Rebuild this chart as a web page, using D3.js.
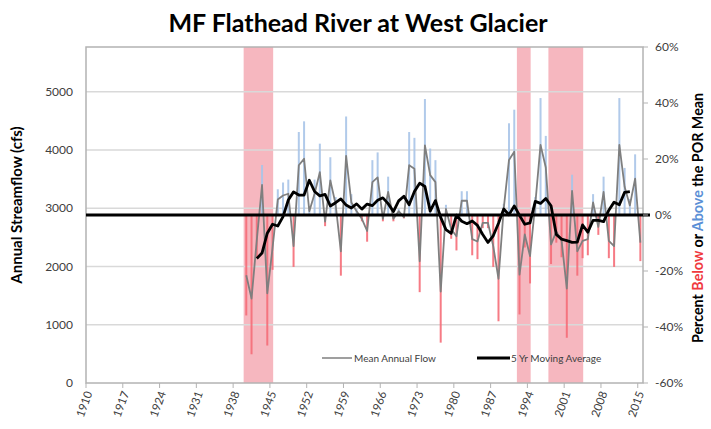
<!DOCTYPE html>
<html lang="en">
  <head>
    <meta charset="utf-8">
    <title>MF Flathead River at West Glacier</title>
    <script type="text/javascript" src="https://cdn.jsdelivr.net/npm/d3@7"></script>
    <style>
      body { margin: 0; background: #fff; }
      svg text { font-family: Lato, "Open Sans", sans-serif; }
    </style>
  </head>
  <body>
    <script type="text/javascript">
    // annual mean flow (cfs), one value per water year starting 1940
    var startYear = 1940;
    var flow = [
      1850, 1450, 2450, 3400, 1540, 2320, 3150, 3220, 3250, 2350,   // 1940s
      3740, 3850, 2950, 3250, 3620, 2770, 3480, 3070, 2260, 3900,   // 1950s
      3100, 2950, 2820, 2610, 3450, 3530, 2820, 3280, 2820, 2950,   // 1960s
      2850, 3740, 3680, 2090, 4080, 3570, 3450, 1570, 2990, 2640,   // 1970s
      2520, 3130, 3130, 2470, 2430, 2750, 2750, 2350, 1790, 3000,   // 1980s
      3830, 3970, 1860, 2550, 2180, 3070, 4090, 3700, 2380, 2600,   // 1990s
      2450, 1620, 3300, 2260, 2440, 2470, 3100, 2680, 3280, 2440,   // 2000s
      2350, 4090, 3370, 3050, 3510, 2410                            // 2010s
    ];
    // period of record mean (cfs)
    var porMean = 2885;

    // drought periods shaded on the chart (first and last year)
    var droughtStart = [1940, 1992, 1998];
    var droughtEnd = [1945, 1994, 2004];

    // axis ticks
    var flowTicks = [0, 1000, 2000, 3000, 4000, 5000];
    var pctTicks = [-60, -40, -20, 0, 20, 40, 60];
    var yearTicks = d3.range(1910, 2016, 7);

    var w = 711;
    var h = 429;
    // plot area edges ("top" is taken by window.top, so prefix them)
    var plotL = 86, plotR = 643, plotT = 47, plotB = 383;

    var data = flow.map(function(f, i) {
      return { year: startYear + i, flow: f, pct: (f / porMean - 1) * 100 };
    });

    // centred 5 yr moving average
    var ma = [];
    for (var i = 2; i < data.length - 2; i++) {
      ma.push({ year: data[i].year, value: d3.mean(data.slice(i - 2, i + 3), function(d) { return d.flow; }) });
    }

    var svg = d3.select("body")
                .append("svg")
                .attr("width", w)
                .attr("height", h);

    var xScale = d3.scaleLinear().domain([1910, 2016]).range([plotL, plotR]);
    var yScale = d3.scaleLinear().domain([0, porMean * 2]).range([plotB, plotT]);
    var pScale = d3.scaleLinear().domain([-60, 60]).range([plotB, plotT]);

    // x position of a year is the middle of its category
    var xMid = function(yr) { return xScale(yr + 0.5); };

    // drought bands
    svg.selectAll("rect.band")
       .data(droughtStart)
       .enter()
       .append("rect")
       .attr("class", "band")
       .attr("x", function(d) { return xScale(d); })
       .attr("width", function(d, i) { return xScale(droughtEnd[i] + 1) - xScale(d) - 2; })
       .attr("y", plotT)
       .attr("height", plotB - plotT)
       .attr("fill", "#f6b7bf");

    // gridlines
    svg.selectAll("line.grid")
       .data(flowTicks.slice(1))
       .enter()
       .append("line")
       .attr("class", "grid")
       .attr("x1", plotL).attr("x2", plotR)
       .attr("y1", function(d) { return yScale(d); })
       .attr("y2", function(d) { return yScale(d); })
       .attr("stroke", "#d9d9d9")
       .attr("stroke-width", 1.5);

    // plot frame
    svg.append("rect")
       .attr("x", plotL).attr("y", plotT)
       .attr("width", plotR - plotL).attr("height", plotB - plotT)
       .attr("fill", "none")
       .attr("stroke", "#b3b3b3")
       .attr("stroke-width", 1.5);

    // percent bars
    svg.selectAll("rect.bar")
       .data(data)
       .enter()
       .append("rect")
       .attr("class", "bar")
       .attr("x", function(d) { return xMid(d.year) - 1; })
       .attr("width", 2)
       .attr("y", function(d) { return Math.min(pScale(d.pct), pScale(0)); })
       .attr("height", function(d) { return Math.abs(pScale(d.pct) - pScale(0)); })
       .attr("fill", function(d) { return d.pct < 0 ? "#f56d78" : "#a9c4e8"; })
       .attr("opacity", 0.9);

    // mean annual flow line
    var flowLine = d3.line()
                     .x(function(d) { return xMid(d.year); })
                     .y(function(d) { return yScale(d.flow); });
    svg.append("path")
       .datum(data)
       .attr("d", flowLine)
       .attr("fill", "none")
       .attr("stroke", "#7f7f7f")
       .attr("stroke-width", 1.8)
       .attr("stroke-linejoin", "round");

    // POR mean (0%)
    svg.append("line")
       .attr("x1", plotL).attr("x2", plotR + 7)
       .attr("y1", pScale(0)).attr("y2", pScale(0))
       .attr("stroke", "#000")
       .attr("stroke-width", 3);

    // moving average
    var maLine = d3.line()
                   .x(function(d) { return xMid(d.year); })
                   .y(function(d) { return yScale(d.value); });
    svg.append("path")
       .datum(ma)
       .attr("d", maLine)
       .attr("fill", "none")
       .attr("stroke", "#000")
       .attr("stroke-width", 2.8)
       .attr("stroke-linejoin", "round");

    // left axis labels
    svg.selectAll("text.ly")
       .data(flowTicks)
       .enter()
       .append("text")
       .attr("class", "ly")
       .attr("x", 73)
       .attr("y", function(d) { return yScale(d) + 4; })
       .attr("text-anchor", "end")
       .attr("font-size", 12)
       .attr("fill", "#404040")
       .text(function(d) { return d; });

    // right axis ticks and labels
    svg.selectAll("line.ry")
       .data(pctTicks)
       .enter()
       .append("line")
       .attr("class", "ry")
       .attr("x1", plotR).attr("x2", plotR + 5)
       .attr("y1", function(d) { return pScale(d); })
       .attr("y2", function(d) { return pScale(d); })
       .attr("stroke", "#b3b3b3");
    svg.selectAll("text.ry")
       .data(pctTicks)
       .enter()
       .append("text")
       .attr("class", "ry")
       .attr("x", 655)
       .attr("y", function(d) { return pScale(d) + 4; })
       .attr("font-size", 12)
       .attr("fill", "#404040")
       .text(function(d) { return d + "%"; });

    // x axis ticks and rotated labels
    svg.selectAll("line.xt")
       .data(yearTicks)
       .enter()
       .append("line")
       .attr("class", "xt")
       .attr("x1", function(d) { return xScale(d); })
       .attr("x2", function(d) { return xScale(d); })
       .attr("y1", plotB).attr("y2", plotB + 5)
       .attr("stroke", "#b3b3b3");
    svg.selectAll("text.xt")
       .data(yearTicks)
       .enter()
       .append("text")
       .attr("class", "xt")
       .attr("transform", function(d) { return "translate(" + (xMid(d) + 4) + "," + (plotB + 10) + ") rotate(-70)"; })
       .attr("text-anchor", "end")
       .attr("font-size", 11.5)
       .attr("fill", "#404040")
       .text(function(d) { return d; });

    // title
    svg.append("text")
       .attr("x", 358).attr("y", 32)
       .attr("text-anchor", "middle")
       .attr("font-family", "'Open Sans', sans-serif")
       .attr("font-size", 25)
       .attr("font-weight", "bold")
       .attr("fill", "#000")
       .text("MF Flathead River at West Glacier");

    // axis titles
    svg.append("text")
       .attr("transform", "translate(22,205) rotate(-90)")
       .attr("text-anchor", "middle")
       .attr("font-size", 15)
       .attr("font-weight", "bold")
       .attr("fill", "#000")
       .text("Annual Streamflow (cfs)");

    var rt = svg.append("text")
       .attr("transform", "translate(703,218) rotate(-90)")
       .attr("text-anchor", "middle")
       .attr("font-size", 14.3)
       .attr("font-weight", "bold")
       .attr("fill", "#000");
    rt.append("tspan").text("Percent ");
    rt.append("tspan").attr("fill", "#f0393e").text("Below");
    rt.append("tspan").text(" or ");
    rt.append("tspan").attr("fill", "#5b8fd6").text("Above");
    rt.append("tspan").text(" the POR Mean");

    // legend
    svg.append("line")
       .attr("x1", 322).attr("x2", 352).attr("y1", 358).attr("y2", 358)
       .attr("stroke", "#7f7f7f").attr("stroke-width", 1.5);
    svg.append("text")
       .attr("x", 354).attr("y", 361.5)
       .attr("font-size", 10)
       .attr("fill", "#404040")
       .text("Mean Annual Flow");
    svg.append("line")
       .attr("x1", 477).attr("x2", 510).attr("y1", 358).attr("y2", 358)
       .attr("stroke", "#000").attr("stroke-width", 2.8);
    svg.append("text")
       .attr("x", 511).attr("y", 361.5)
       .attr("font-size", 10)
       .attr("fill", "#404040")
       .text("5 Yr Moving Average");
    </script>
  </body>
</html>
